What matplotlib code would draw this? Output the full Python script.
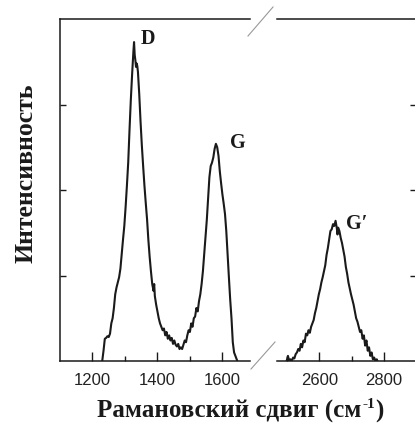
import numpy as np
import matplotlib.pyplot as plt
from matplotlib.lines import Line2D

# First-order region (D and G bands)
first_shift = [1230, 1234, 1238, 1242, 1246, 1250, 1254, 1258, 1262, 1266,
               1270, 1274, 1278, 1282, 1286, 1290, 1294, 1298, 1302, 1306,
               1310, 1314, 1318, 1322, 1326, 1328, 1330, 1332, 1334, 1336,
               1338, 1340, 1344, 1348, 1352, 1356, 1360, 1364, 1368, 1372,
               1376, 1380, 1384, 1388, 1390, 1392, 1396, 1400, 1404, 1408,
               1412, 1416, 1420, 1424, 1428, 1432, 1436, 1440, 1444, 1448,
               1452, 1456, 1460, 1464, 1468, 1472, 1476, 1480, 1484, 1488,
               1492, 1496, 1500, 1504, 1508, 1512, 1516, 1520, 1524, 1528,
               1532, 1536, 1540, 1544, 1548, 1552, 1556, 1560, 1564, 1568,
               1572, 1576, 1580, 1584, 1588, 1592, 1596, 1600, 1604, 1608,
               1612, 1616, 1620, 1624, 1628, 1632, 1636, 1640, 1644, 1648]
first_int = [0.00, 0.12, 0.26, 0.27, 0.29, 0.28, 0.32, 0.44, 0.50, 0.62,
             0.78, 0.86, 0.92, 0.98, 1.08, 1.25, 1.42, 1.58, 1.80, 2.05,
             2.32, 2.70, 3.05, 3.35, 3.62, 3.73, 3.58, 3.52, 3.44, 3.48,
             3.45, 3.38, 3.12, 2.80, 2.52, 2.28, 2.05, 1.85, 1.66, 1.42,
             1.22, 1.05, 0.90, 0.82, 0.90, 0.76, 0.66, 0.58, 0.50, 0.44,
             0.40, 0.36, 0.38, 0.30, 0.34, 0.26, 0.30, 0.24, 0.27, 0.20,
             0.24, 0.19, 0.17, 0.20, 0.14, 0.16, 0.14, 0.19, 0.24, 0.22,
             0.30, 0.36, 0.34, 0.44, 0.40, 0.50, 0.52, 0.62, 0.58, 0.70,
             0.78, 0.90, 1.05, 1.25, 1.45, 1.65, 1.90, 2.15, 2.28, 2.32,
             2.38, 2.48, 2.54, 2.50, 2.40, 2.22, 2.08, 1.95, 1.84, 1.72,
             1.52, 1.25, 0.98, 0.72, 0.50, 0.22, 0.10, 0.06, 0.02, -0.02]

# Second-order region (G' band)
second_shift = [2498, 2502, 2506, 2510, 2514, 2518, 2522, 2526, 2530, 2534,
                2538, 2542, 2546, 2550, 2554, 2558, 2562, 2566, 2570, 2574,
                2578, 2582, 2586, 2590, 2594, 2598, 2602, 2606, 2610, 2614,
                2618, 2622, 2626, 2630, 2634, 2638, 2642, 2646, 2650, 2654,
                2656, 2658, 2662, 2666, 2670, 2674, 2678, 2682, 2686, 2690,
                2694, 2698, 2702, 2706, 2710, 2714, 2718, 2722, 2726, 2730,
                2734, 2738, 2742, 2746, 2750, 2754, 2758, 2762, 2766, 2770,
                2774, 2778, 2782]
second_int = [0.00, 0.06, 0.00, 0.02, 0.00, 0.04, 0.03, 0.08, 0.10, 0.14,
              0.12, 0.20, 0.16, 0.24, 0.22, 0.32, 0.30, 0.36, 0.33, 0.40,
              0.44, 0.48, 0.56, 0.62, 0.70, 0.78, 0.84, 0.92, 0.98, 1.05,
              1.12, 1.24, 1.32, 1.42, 1.52, 1.54, 1.60, 1.58, 1.64, 1.55,
              1.48, 1.56, 1.52, 1.44, 1.38, 1.30, 1.22, 1.10, 1.02, 0.92,
              0.85, 0.78, 0.72, 0.66, 0.58, 0.50, 0.46, 0.40, 0.34, 0.36,
              0.26, 0.30, 0.18, 0.24, 0.12, 0.16, 0.06, 0.10, 0.02, 0.04,
              0.00, 0.02, -0.02]

peak_labels = ["D", "G", "G\u2032"]
peak_pos = [(1347, 3.72), (1623, 2.50), (2683, 1.55)]

ink = "#1a1a1a"
serif = ["Liberation Serif", "DejaVu Serif"]

fig = plt.figure(figsize=(4.15, 4.27), dpi=100)
W, H = 415, 427

ax1 = fig.add_axes([60 / W, 1 - 362 / H, 190 / W, 342 / H])
ax2 = fig.add_axes([277 / W, 1 - 362 / H, 139 / W, 342 / H])

ax1.plot(first_shift, first_int, color=ink, lw=1.5)
ax2.plot(second_shift, second_int, color=ink, lw=1.5)

ax1.set_xlim(1100, 1685)
ax2.set_xlim(2468, 2896)
ax1.set_xticks([1200, 1400, 1600])
ax1.set_xticks([1300, 1500], minor=True)
ax2.set_xticks([2600, 2800])
ax2.set_xticks([2500, 2700, 2900], minor=True)

for ax in (ax1, ax2):
    ax.set_ylim(0, 4)
    ax.set_yticks([1, 2, 3])
    ax.set_yticklabels([])
    for s in ax.spines.values():
        s.set_linewidth(1.1)
        s.set_color(ink)
    ax.tick_params(axis="x", which="major", direction="in", length=6.5,
                   width=1.0, color=ink, labelsize=12, pad=8)
    ax.tick_params(axis="x", which="minor", direction="in", length=3.5,
                   width=1.0, color=ink)
    ax.tick_params(axis="y", direction="in", length=4.5, width=1.0, color=ink)
    for lab in ax.get_xticklabels():
        lab.set_family("Liberation Sans")
        lab.set_color("#222222")

ax1.spines["right"].set_visible(False)
ax2.spines["left"].set_visible(False)
ax2.yaxis.tick_right()
ax2.tick_params(axis="y", direction="in", length=4.5)

# peak labels
for ax, txt, (px, py) in zip([ax1, ax1, ax2], peak_labels, peak_pos):
    ax.text(px, py, txt, family=serif, fontweight="bold", fontsize=14.5,
            color=ink, ha="left", va="baseline")

# axis break marks
fig.add_artist(Line2D([248 / W, 273 / W], [1 - 37 / H, 1 - 8 / H],
                      color="#999999", lw=0.8))
fig.add_artist(Line2D([251 / W, 275 / W], [1 - 370 / H, 1 - 343 / H],
                      color="#999999", lw=0.8))

fig.text(26 / W, 1 - 173 / H, "Интенсивность", rotation=90, family=serif,
         fontweight="bold", fontsize=18.5, ha="center", va="center", color=ink)

# x label with a small raised "-1"
r = fig.canvas.get_renderer()
xl = fig.text(97 / W, 1 - 418 / H, "Рамановский сдвиг (см", family=serif,
              fontweight="bold", fontsize=18, ha="left", va="baseline",
              color=ink)
bb = xl.get_window_extent(renderer=r)
sup = fig.text(bb.x1 / W + 0.002, 1 - 408 / H, "-1", family=serif,
               fontweight="bold", fontsize=11, ha="left", va="baseline",
               color=ink)
bb2 = sup.get_window_extent(renderer=r)
fig.text(bb2.x1 / W, 1 - 418 / H, ")", family=serif, fontweight="bold",
         fontsize=18, ha="left", va="baseline", color=ink)

fig.savefig("out.png", dpi=100)
